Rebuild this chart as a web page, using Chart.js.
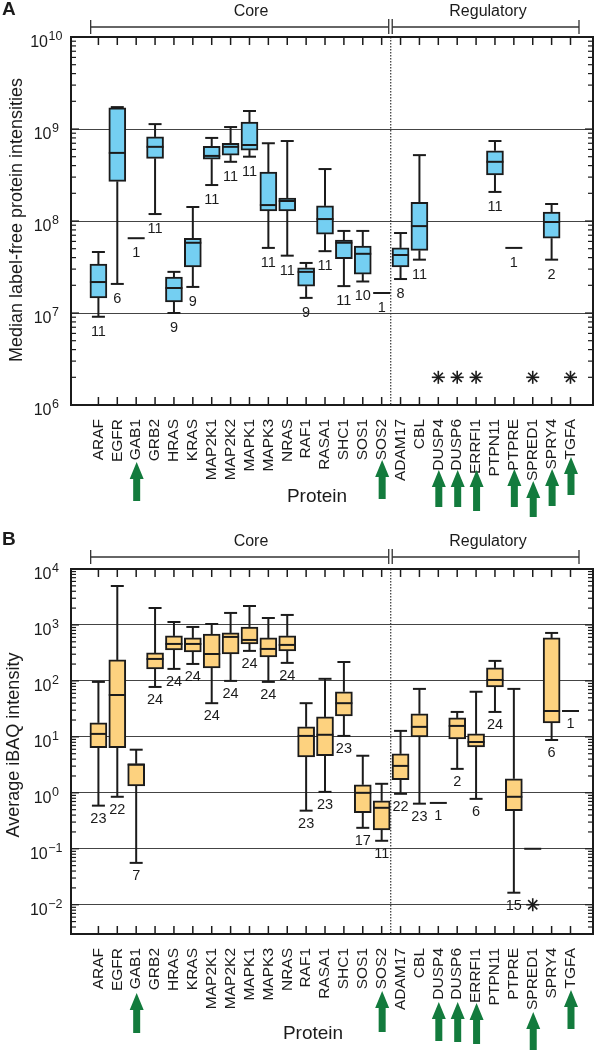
<!DOCTYPE html>
<html>
<head>
<meta charset="utf-8">
<script src="https://cdn.jsdelivr.net/npm/chart.js@4.4.1/dist/chart.umd.min.js"></script>
<style>
  html, body { margin: 0; padding: 0; background: #fff; }
  .panel { position: absolute; left: 0; width: 601px; height: 525px; }
</style>
</head>
<body>
<div class="panel" style="top:0"><canvas id="chartA" width="601" height="525"></canvas></div>
<div class="panel" style="top:525px"><canvas id="chartB" width="601" height="525"></canvas></div>
<script>
const proteins = ['ARAF', 'EGFR', 'GAB1', 'GRB2', 'HRAS', 'KRAS', 'MAP2K1', 'MAP2K2', 'MAPK1', 'MAPK3',
  'NRAS', 'RAF1', 'RASA1', 'SHC1', 'SOS1', 'SOS2', 'ADAM17', 'CBL', 'DUSP4', 'DUSP6', 'ERRFI1',
  'PTPN11', 'PTPRE', 'SPRED1', 'SPRY4', 'TGFA'];
const coreCount = 16;

// A - median label-free protein intensities
const lfqMin = [9.1e6, 2.07e7, 6.5e7, 1.19e8, 1.0e7, 1.92e7, 2.46e8, 4.4e8, 5.0e8, 5.1e7, 4.2e7, 1.46e7, 4.7e7,
  1.96e7, 2.2e7, 1.65e7, 2.34e7, 3.8e7, null, null, null, 2.07e8, 5.1e7, null, 3.8e7, null];
const lfqQ1 = [1.46e7, 2.7e8, 6.5e7, 4.8e8, 1.32e7, 3.16e7, 4.7e8, 5.2e8, 5.9e8, 1.29e8, 1.29e8, 1.96e7, 7.2e7,
  3.9e7, 2.65e7, 1.65e7, 3.16e7, 4.8e7, null, null, null, 3.16e8, 5.1e7, null, 6.5e7, null];
const lfqMedian = [2.17e7, 5.5e8, 6.5e7, 6.4e8, 1.87e7, 5.8e7, 5.1e8, 6.4e8, 6.7e8, 1.49e8, 1.65e8, 2.8e7, 1.05e8,
  5.8e7, 4.4e7, 1.65e7, 4.27e7, 8.8e7, null, null, null, 4.4e8, 5.1e7, null, 9.75e7, null];
const lfqQ3 = [3.4e7, 1.7e9, 6.5e7, 8.2e8, 2.45e7, 6.5e7, 6.5e8, 7.0e8, 1.19e9, 3.4e8, 1.78e8, 3.1e7, 1.46e8,
  6.2e7, 5.35e7, 1.65e7, 5.1e7, 1.6e8, null, null, null, 5.8e8, 5.1e7, null, 1.25e8, null];
const lfqMax = [4.6e7, 1.73e9, 6.5e7, 1.13e9, 2.8e7, 1.42e8, 8.0e8, 1.05e9, 1.57e9, 7.0e8, 7.4e8, 3.5e7, 3.67e8,
  7.8e7, 7.8e7, 1.65e7, 7.4e7, 5.2e8, null, null, null, 7.4e8, 5.1e7, null, 1.53e8, null];
const lfqN = [11, 6, 1, 11, 9, 9, 11, 11, 11, 11, 11, 9, 11, 11, 10, 1, 8, 11, null, null, null, 11, 1, null, 2, null];
const lfqDecades = [1e6, 1e7, 1e8, 1e9, 1e10];
const lfqNotDetected = ['DUSP4', 'DUSP6', 'ERRFI1', 'SPRED1', 'TGFA'];

// B - average iBAQ intensity
const ibaqMin = [0.59, 0.85, 0.056, 78, 164, 201, 40, 100, 344, 96, 210, 0.48, 1.04, 10.4, 0.237, 0.139,
  0.96, 0.64, 0.66, 2.68, 0.78, 27.9, 0.0164, 0.1, 8.8, 29];
const ibaqQ1 = [6.4, 6.4, 1.33, 164, 358, 330, 171, 303, 458, 268, 344, 4.4, 4.6, 23.7, 0.44, 0.218,
  1.71, 10, 0.66, 9.2, 6.6, 78, 0.48, 0.1, 17.8, 29];
const ibaqMedian = [11.3, 56, 3.2, 247, 458, 458, 303, 611, 540, 373, 440, 10.4, 10.9, 40, 1.0, 0.54,
  3.03, 15.1, 0.66, 15.7, 8.1, 104, 0.85, 0.1, 29, 29];
const ibaqQ3 = [17.8, 237, 3.3, 316, 637, 586, 690, 720, 921, 586, 637, 15.1, 22.7, 64, 1.39, 0.72,
  4.97, 25.8, 0.66, 21.8, 11.3, 171, 1.78, 0.1, 586, 29];
const ibaqMax = [96, 4970, 5.9, 2010, 1130, 921, 1040, 1640, 2180, 1330, 1510, 40, 109, 218, 4.6, 1.45,
  12.8, 72, 0.66, 27.9, 64, 228, 72, 0.1, 720, 29];
const ibaqN = [23, 22, 7, 24, 24, 24, 24, 24, 24, 24, 24, 23, 23, 23, 17, 11, 22, 23, 1, 2, 6, 24, 15, null, 6, 1];
const ibaqDecades = [1e-2, 1e-1, 1, 10, 100, 1000, 1e4];
const ibaqNotDetected = ['SPRED1'];

const INK = '#1b1b1b';
const FONT = "'Liberation Sans', Arial, Helvetica, sans-serif";
Chart.defaults.font.family = FONT;

const seg = (ctx, x1, y1, x2, y2) => {
  ctx.beginPath(); ctx.moveTo(x1, y1); ctx.lineTo(x2, y2); ctx.stroke();
};

const arrow = (ctx, cx, top, bottom) => {
  ctx.beginPath();
  ctx.moveTo(cx, top);
  ctx.lineTo(cx + 7, top + 17);
  ctx.lineTo(cx + 3.5, top + 17);
  ctx.lineTo(cx + 3.5, bottom);
  ctx.lineTo(cx - 3.5, bottom);
  ctx.lineTo(cx - 3.5, top + 17);
  ctx.lineTo(cx - 7, top + 17);
  ctx.closePath();
  ctx.fill();
};

const boxPlugin = (p) => ({
  id: 'boxes',
  beforeDatasetsDraw(chart) {
    const { ctx, chartArea: a, scales: { x } } = chart;
    ctx.save();
    ctx.strokeStyle = '#333';
    ctx.lineWidth = 1.2;
    ctx.setLineDash([1.5, 1.5]);
    const dx = x.getPixelForValue(coreCount - 0.52);
    seg(ctx, dx, a.top, dx, a.bottom);
    ctx.restore();
  },
  afterDatasetsDraw(chart) {
    const { ctx, scales: { x, y } } = chart;
    ctx.save();
    ctx.strokeStyle = INK;
    ctx.fillStyle = INK;
    ctx.lineWidth = 2;
    ctx.font = '14.5px ' + FONT;
    ctx.textAlign = 'center';
    ctx.textBaseline = 'middle';
    p.med.forEach((m, i) => {
      if (m == null) return;
      const cx = x.getPixelForValue(i);
      if (p.q1[i] === p.q3[i]) {
        const yy = y.getPixelForValue(m);
        seg(ctx, cx - 8.5, yy, cx + 8.5, yy);
      } else {
        const yMin = y.getPixelForValue(p.min[i]);
        const yQ1 = y.getPixelForValue(p.q1[i]);
        const yMed = y.getPixelForValue(m);
        const yQ3 = y.getPixelForValue(p.q3[i]);
        const yMax = y.getPixelForValue(p.max[i]);
        seg(ctx, cx, yQ3, cx, yMax);
        seg(ctx, cx - 6.5, yMax, cx + 6.5, yMax);
        seg(ctx, cx, yQ1, cx, yMin);
        seg(ctx, cx - 6.5, yMin, cx + 6.5, yMin);
        seg(ctx, cx - 8.5, yMed, cx + 8.5, yMed);
      }
      if (p.n[i] != null) {
        ctx.fillText(String(p.n[i]), cx, y.getPixelForValue(p.min[i]) + p.nOffset);
      }
    });
    // not detected
    ctx.lineWidth = 1.6;
    p.notDetected.forEach(name => {
      const cx = x.getPixelForValue(proteins.indexOf(name));
      const cy = y.getPixelForValue(p.marker);
      for (let k = 0; k < 4; k++) {
        const ang = k * Math.PI / 4;
        seg(ctx, cx - 6.5 * Math.cos(ang), cy - 6.5 * Math.sin(ang), cx + 6.5 * Math.cos(ang), cy + 6.5 * Math.sin(ang));
      }
    });
    ctx.restore();
  },
  afterDraw(chart) {
    const { ctx, chartArea: a, scales: { x, y } } = chart;
    ctx.save();
    ctx.strokeStyle = INK;
    ctx.fillStyle = INK;

    // inward ticks, top and bottom
    ctx.lineWidth = 1.5;
    proteins.forEach((_, i) => {
      const px = x.getPixelForValue(i);
      seg(ctx, px, a.top, px, a.top + 8);
      seg(ctx, px, a.bottom, px, a.bottom - 8);
    });
    // log minor ticks, left and right
    ctx.lineWidth = 1.2;
    const lo = Math.floor(Math.log10(p.yMin)), hi = Math.ceil(Math.log10(p.yMax));
    for (let e = lo; e < hi; e++) {
      for (let k = 1; k <= 9; k++) {
        const v = k * Math.pow(10, e);
        if (v < p.yMin * 0.999 || v > p.yMax * 1.001) continue;
        const py = y.getPixelForValue(v);
        const len = k === 1 ? 8 : 5;
        seg(ctx, a.left, py, a.left + len, py);
        seg(ctx, a.right, py, a.right - len, py);
      }
    }
    // frame
    ctx.lineWidth = 2;
    ctx.strokeRect(a.left, a.top, a.right - a.left, a.bottom - a.top);

    // y tick labels with exponents
    p.decades.forEach(v => {
      const e = Math.round(Math.log10(v));
      const ex = e < 0 ? '\u2212' + (-e) : String(e);
      const py = y.getPixelForValue(v);
      ctx.font = '16px ' + FONT;
      const wb = ctx.measureText('10').width;
      ctx.font = '12.5px ' + FONT;
      const we = ctx.measureText(ex).width;
      const x0 = 46 - (wb + we) / 2;
      ctx.textAlign = 'left';
      ctx.textBaseline = 'middle';
      ctx.font = '16px ' + FONT;
      ctx.fillText('10', x0, py + 6);
      ctx.font = '12.5px ' + FONT;
      ctx.fillText(ex, x0 + wb + 0.5, py);
    });

    // y axis title
    ctx.save();
    ctx.translate(p.yTitleX, p.yTitleY);
    ctx.rotate(-Math.PI / 2);
    ctx.font = '18px ' + FONT;
    ctx.textAlign = 'center';
    ctx.textBaseline = 'middle';
    ctx.fillText(p.yTitle, 0, 0);
    ctx.restore();

    // x axis title
    ctx.font = '19px ' + FONT;
    ctx.textAlign = 'center';
    ctx.textBaseline = 'middle';
    ctx.fillText('Protein', p.xTitleX, p.xTitleY);

    // panel letter
    ctx.font = 'bold 19px ' + FONT;
    ctx.textAlign = 'left';
    ctx.fillText(p.letter, 2, p.letterY);

    // group brackets
    ctx.lineWidth = 1.3;
    ctx.strokeStyle = '#333';
    const dx = x.getPixelForValue(coreCount - 0.52);
    const l = x.getPixelForValue(-0.41), r = x.getPixelForValue(25.45);
    const by = p.bracketY;
    seg(ctx, l, by, dx - 2, by);
    seg(ctx, dx + 1.5, by, r, by);
    seg(ctx, l, by - 7, l, by + 7);
    seg(ctx, r, by - 7, r, by + 7);
    seg(ctx, dx - 2, by - 8, dx - 2, by + 7);
    seg(ctx, dx + 1.5, by - 8, dx + 1.5, by + 7);
    ctx.font = '16px ' + FONT;
    ctx.textAlign = 'center';
    ctx.fillText('Core', 251, p.groupTextY);
    ctx.fillText('Regulatory', 488, p.groupTextY);

    // green arrows under selected proteins
    ctx.fillStyle = '#137b3d';
    Object.entries(p.arrows).forEach(([name, [t, b]]) => {
      arrow(ctx, x.getPixelForValue(proteins.indexOf(name)) + 0.5, t, b);
    });
    ctx.restore();
  }
});

const makeChart = (id, p) => {
  const boxes = [];
  p.med.forEach((m, i) => {
    if (m != null && p.q1[i] !== p.q3[i]) boxes.push({ x: i, y: [p.q1[i], p.q3[i]] });
  });
  return new Chart(document.getElementById(id), {
    type: 'bar',
    data: {
      datasets: [{
        data: boxes,
        backgroundColor: p.fill,
        borderColor: INK,
        borderWidth: 2,
        borderSkipped: false,
        barThickness: 17
      }]
    },
    options: {
      responsive: false,
      animation: false,
      layout: { padding: { top: p.padTop, right: 8, left: 0, bottom: 0 } },
      plugins: { legend: { display: false }, tooltip: { enabled: false } },
      scales: {
        x: {
          type: 'linear',
          min: -0.92,
          max: 25.66,
          afterBuildTicks: s => { s.ticks = proteins.map((_, i) => ({ value: i })); },
          afterFit: s => { s.height = p.xHeight; },
          grid: { display: false },
          border: { display: false },
          ticks: {
            autoSkip: false,
            minRotation: 90,
            maxRotation: 90,
            padding: 6,
            color: INK,
            font: { size: 15.5 },
            callback: (v, i) => proteins[i]
          }
        },
        y: {
          type: 'logarithmic',
          min: p.yMin,
          max: p.yMax,
          afterBuildTicks: s => { s.ticks = p.decades.map(v => ({ value: v })); },
          afterFit: s => { s.width = 71; },
          ticks: { display: false },
          grid: { color: '#444', lineWidth: 1, drawTicks: false },
          border: { display: false }
        }
      }
    },
    plugins: [boxPlugin(p)]
  });
};

makeChart('chartA', {
  min: lfqMin, q1: lfqQ1, med: lfqMedian, q3: lfqQ3, max: lfqMax, n: lfqN,
  decades: lfqDecades, yMin: 1e6, yMax: 1e10, notDetected: lfqNotDetected, marker: 2e6,
  fill: '#74cff2', padTop: 37, xHeight: 120, nOffset: 15,
  letter: 'A', letterY: 10, yTitle: 'Median label-free protein intensities', yTitleX: 17, yTitleY: 220,
  xTitleX: 317, xTitleY: 497, bracketY: 27, groupTextY: 12,
  arrows: { GAB1: [462, 501], SOS2: [460, 499], DUSP4: [470, 507], DUSP6: [470, 507], ERRFI1: [470, 511],
    PTPRE: [469, 507], SPRED1: [481, 517], SPRY4: [469, 506], TGFA: [457, 495] }
});

makeChart('chartB', {
  min: ibaqMin, q1: ibaqQ1, med: ibaqMedian, q3: ibaqQ3, max: ibaqMax, n: ibaqN,
  decades: ibaqDecades, yMin: 0.003, yMax: 1e4, notDetected: ibaqNotDetected, marker: 0.01,
  fill: '#fdd27f', padTop: 44, xHeight: 116, nOffset: 13,
  letter: 'B', letterY: 15, yTitle: 'Average iBAQ intensity', yTitleX: 14, yTitleY: 220,
  xTitleX: 313, xTitleY: 509, bracketY: 32, groupTextY: 17,
  arrows: { GAB1: [468, 508], SOS2: [466, 507], DUSP4: [477, 516], DUSP6: [477, 517], ERRFI1: [478, 519],
    SPRED1: [487, 530], TGFA: [465, 504] }
});
</script>
</body>
</html>
